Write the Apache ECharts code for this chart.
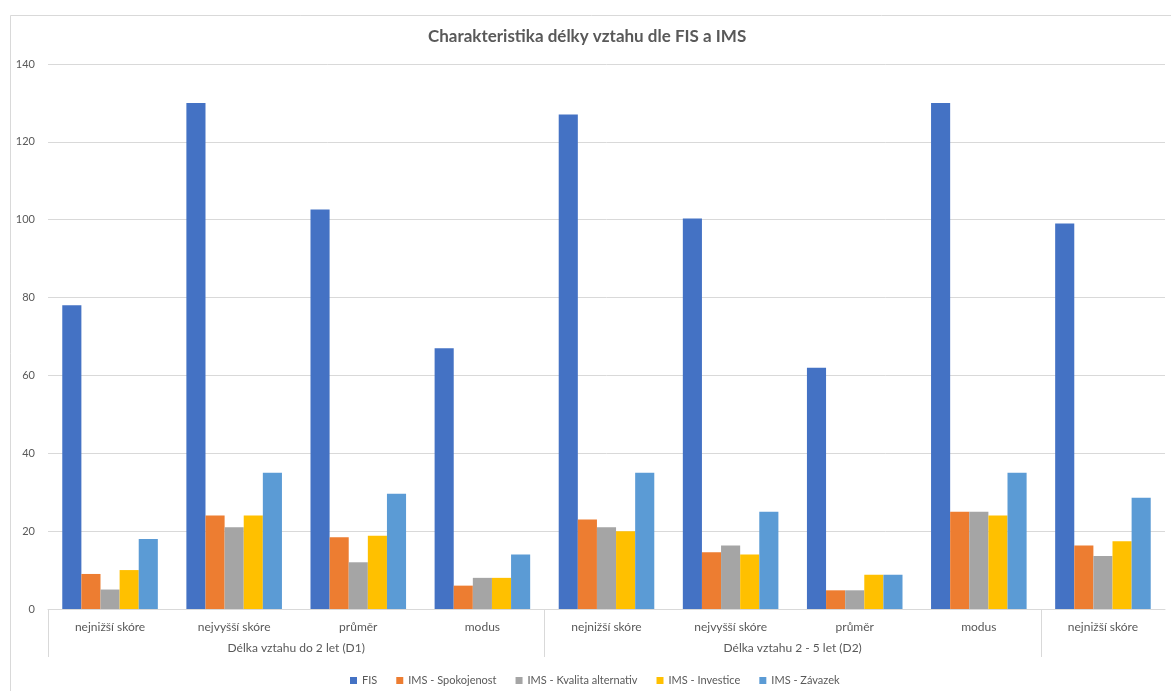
<!DOCTYPE html>
<html>
<head>
<meta charset="utf-8">
<script src="https://cdn.jsdelivr.net/npm/echarts@6/dist/echarts.min.js"></script>
<style>
  html, body { margin: 0; padding: 0; background: #ffffff; }
  #chart { width: 1171px; height: 691px; }
</style>
</head>
<body>
<div id="chart"></div>
<script>
// Category labels (first level) and the groups they belong to (second level)
const categories = [
  'nejnižší skóre', 'nejvyšší skóre', 'průměr', 'modus',
  'nejnižší skóre', 'nejvyšší skóre', 'průměr', 'modus',
  'nejnižší skóre'
];
const groupLabels = ['Délka vztahu do 2 let (D1)', 'Délka vztahu 2 - 5 let (D2)'];
const groupCenters = [2, 6];        // centre of each group, in category units
const groupBoundaries = [0, 4, 8];  // separators between groups

const seriesNames = ['FIS', 'IMS - Spokojenost', 'IMS - Kvalita alternativ', 'IMS - Investice', 'IMS - Závazek'];
const fis          = [78, 130, 102.6, 67, 127, 100.3, 62, 130, 99];
const spokojenost  = [9, 24, 18.4, 6, 23, 14.6, 4.8, 25, 16.3];
const kvalita      = [5, 21, 12, 8, 21, 16.3, 4.8, 25, 13.6];
const investice    = [10, 24, 18.8, 8, 20, 14, 8.8, 24, 17.4];
const zavazek      = [18, 35, 29.6, 14, 35, 25, 8.8, 35, 28.6];

const yTicks = { min: 0, max: 140, interval: 20 };
const colors = ['#4472C4', '#ED7D31', '#A5A5A5', '#FFC000', '#5B9BD5'];

const txt = '#595959';
const gridCol = '#d9d9d9';
const font = 'Lato, "Open Sans", sans-serif';

const chart = echarts.init(document.getElementById('chart'), null, { renderer: 'canvas' });

const values = [fis, spokojenost, kvalita, investice, zavazek];

chart.setOption({
  animation: false,
  backgroundColor: '#ffffff',
  color: colors,
  title: {
    text: 'Charakteristika délky vztahu dle FIS a IMS',
    left: 428,
    top: 28,
    padding: 0,
    textStyle: { fontFamily: font, fontSize: 17, fontWeight: 'bold', color: txt }
  },
  graphic: [{
    type: 'rect',
    left: 8, top: 13,
    shape: { width: 1170, height: 690 },
    style: { fill: 'none', stroke: gridCol, lineWidth: 1 },
    silent: true
  }],
  legend: {
    bottom: 5,
    left: 350,
    padding: 0,
    itemWidth: 7,
    itemHeight: 7,
    itemGap: 19,
    icon: 'rect',
    textStyle: { fontFamily: font, fontSize: 11, color: txt },
    data: seriesNames
  },
  grid: { left: 48, right: 6, top: 64, bottom: 82, containLabel: false },
  xAxis: [
    {
      type: 'category',
      data: categories,
      axisLine: { show: true, lineStyle: { color: gridCol } },
      axisTick: { show: false },
      axisLabel: { fontFamily: font, fontSize: 12, color: txt, margin: 12, interval: 0 },
      splitLine: { show: false }
    },
    {
      type: 'value',
      position: 'bottom',
      min: 0, max: categories.length,
      axisLine: { show: false },
      axisTick: {
        show: true, length: 48,
        customValues: groupBoundaries,
        lineStyle: { color: gridCol }
      },
      axisLabel: {
        show: true,
        customValues: groupCenters,
        margin: 33,
        fontFamily: font, fontSize: 12, color: txt,
        formatter: function (v) {
          const i = groupCenters.indexOf(v);
          return i >= 0 ? groupLabels[i] : '';
        }
      },
      splitLine: { show: false }
    }
  ],
  yAxis: {
    type: 'value',
    min: yTicks.min, max: yTicks.max, interval: yTicks.interval,
    axisLine: { show: false },
    axisTick: { show: false },
    axisLabel: { fontFamily: font, fontSize: 11, color: txt, margin: 13 },
    splitLine: { lineStyle: { color: gridCol, width: 1 } }
  },
  series: seriesNames.map((name, i) => ({
    name: name,
    type: 'bar',
    xAxisIndex: 0,
    data: values[i],
    barGap: '0%',
    barCategoryGap: '23%',
    itemStyle: { color: colors[i] }
  }))
});
</script>
</body>
</html>
